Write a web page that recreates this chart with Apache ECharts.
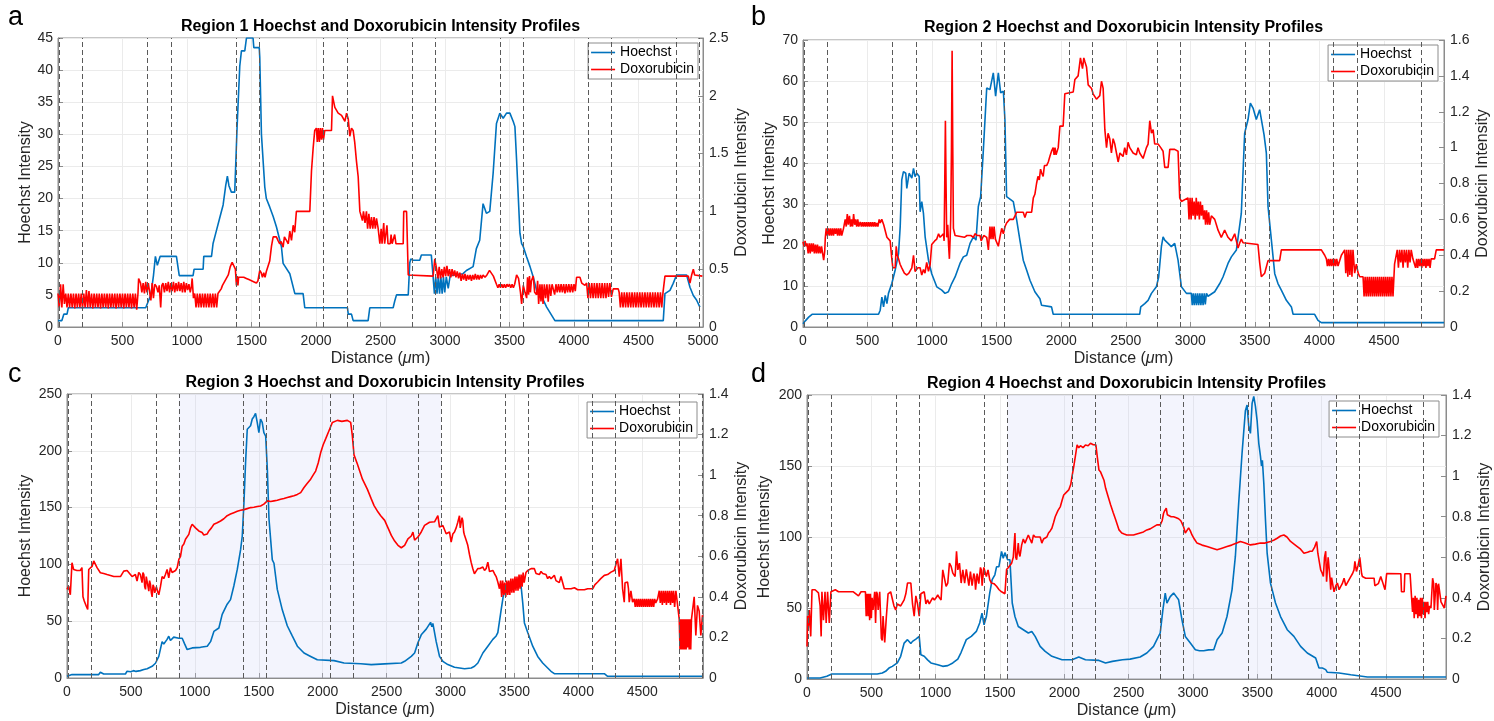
<!DOCTYPE html>
<html>
<head>
<meta charset="utf-8">
<title>Hoechst and Doxorubicin Intensity Profiles</title>
<script src="https://cdn.jsdelivr.net/npm/echarts@6.0.0/dist/echarts.min.js"></script>
<style>
  html, body { margin: 0; padding: 0; background: #fff; }
  #main { width: 1494px; height: 721px; }
</style>
</head>
<body>
<div id="main"></div>
<script>
// ---- data (distance in um, intensity) ----
const titles = [
  'Region 1 Hoechst and Doxorubicin Intensity Profiles',
  'Region 2 Hoechst and Doxorubicin Intensity Profiles',
  'Region 3 Hoechst and Doxorubicin Intensity Profiles',
  'Region 4 Hoechst and Doxorubicin Intensity Profiles'
]
const panelLetters = ['a', 'b', 'c', 'd']
const seriesNames = ['Hoechst', 'Doxorubicin']

// dashed guide lines, same in every panel
const dashedLines = [10, 190, 695, 875, 1380, 1557, 2060, 2242, 2745, 2925, 3428, 3608, 4110, 4292, 4790, 4972]
// shaded ranges (null = none)
const shadeRanges = [null, null, [875, 2925], [1557, 4110]]

// axis ranges
const xMax = [5000, 4965, 4975, 4966]
const hoechstMax = [45, 70, 250, 200]
const hoechstStep = [5, 10, 50, 50]
const doxMax = [2.5, 1.6, 1.4, 1.4]
const doxStep = [0.5, 0.2, 0.2, 0.2]

const r1Hoechst = [[0,1],[30,1],[45,2],[70,2],[80,3],[680,3],[700,4],[720,5],[740,8],[755,11],[765,11],[770,9.6],[785,9.6],[792,11],[918,11],[940,8],[1047,8],[1055,9],[1125,9],[1130,11],[1190,11],[1202,13],[1228,15],[1254,17],[1280,19],[1300,22],[1313,23.5],[1325,22],[1344,21],[1370,21],[1388,31],[1409,40.6],[1422,43],[1448,43],[1461,45],[1512,45],[1518,43.5],[1560,43.5],[1564,42],[1577,30],[1603,21.8],[1615,20],[1629,20.3],[1641,18.7],[1668,17.2],[1693,15.6],[1732,12.5],[1745,9.9],[1797,8.3],[1836,5.2],[1900,5.2],[1913,3],[2244,3],[2250,2],[2275,2],[2288,1],[2404,1],[2417,3],[2598,3],[2610,4],[2624,5],[2715,5],[2727,10],[2735,10.6],[2752,10.4],[2804,10.4],[2817,11.2],[2894,11.2],[2908,7.8],[2918,5.2],[2928,7.8],[2938,5.2],[2948,7.8],[2958,5.2],[2968,7.8],[2978,5.2],[2988,7.8],[2998,5.4],[3010,7.8],[3025,6],[3040,8],[3053,8.3],[3140,8.3],[3166,8.8],[3218,9.4],[3243,12.2],[3269,13.5],[3295,19.2],[3308,19.2],[3321,17.7],[3347,18],[3373,23.9],[3399,31.7],[3412,32],[3425,33.3],[3451,32.5],[3477,33.3],[3503,33.3],[3529,32],[3542,31.2],[3555,26],[3581,14.6],[3594,13],[3607,12.5],[3633,10.9],[3659,9.4],[3684,7.8],[3710,5.7],[3736,4.7],[3762,4.2],[3788,3.1],[3852,1],[4692,1],[4705,5.2],[4744,5.7],[4769,6.8],[4795,8.1],[4873,8.1],[4899,6.2],[4925,4.9],[4950,4.2],[4976,3.1]]

const r1Dox = [[0,0.29],[10,0.17],[20,0.37],[30,0.17],[40,0.37],[50,0.2],[60,0.29],[70,0.17],[80,0.29],[90,0.17],[100,0.29],[110,0.17],[120,0.29],[130,0.16],[140,0.29],[150,0.17],[160,0.29],[170,0.17],[180,0.29],[190,0.16],[200,0.29],[210,0.17],[220,0.32],[230,0.17],[240,0.31],[250,0.17],[260,0.29],[270,0.16],[280,0.29],[290,0.17],[300,0.29],[310,0.17],[320,0.29],[330,0.16],[340,0.29],[350,0.17],[360,0.29],[370,0.17],[380,0.29],[390,0.16],[400,0.29],[410,0.17],[420,0.29],[430,0.17],[440,0.29],[450,0.16],[460,0.29],[470,0.17],[480,0.29],[490,0.17],[500,0.29],[510,0.16],[520,0.29],[530,0.17],[540,0.29],[550,0.17],[560,0.29],[570,0.16],[580,0.29],[590,0.17],[600,0.29],[610,0.15],[620,0.29],[625,0.42],[640,0.38],[650,0.3],[660,0.38],[670,0.29],[680,0.39],[690,0.3],[700,0.38],[711,0.37],[720,0.23],[730,0.38],[740,0.25],[750,0.37],[763,0.35],[775,0.3],[785,0.36],[796,0.17],[805,0.36],[814,0.38],[825,0.3],[835,0.38],[845,0.31],[855,0.39],[865,0.3],[875,0.38],[885,0.31],[895,0.39],[905,0.3],[915,0.38],[925,0.31],[935,0.39],[945,0.31],[955,0.38],[965,0.3],[975,0.39],[985,0.3],[995,0.38],[1005,0.32],[1015,0.37],[1025,0.3],[1034,0.35],[1040,0.42],[1050,0.25],[1060,0.29],[1070,0.17],[1080,0.29],[1090,0.17],[1100,0.29],[1110,0.17],[1120,0.29],[1130,0.17],[1140,0.29],[1150,0.17],[1160,0.29],[1170,0.17],[1180,0.29],[1190,0.17],[1200,0.29],[1210,0.17],[1220,0.29],[1230,0.17],[1240,0.29],[1254,0.3],[1265,0.33],[1275,0.36],[1290,0.39],[1305,0.42],[1320,0.45],[1335,0.52],[1350,0.56],[1365,0.55],[1375,0.5],[1383,0.36],[1390,0.44],[1395,0.36],[1400,0.43],[1420,0.43],[1440,0.43],[1460,0.42],[1480,0.41],[1500,0.4],[1520,0.39],[1538,0.38],[1550,0.4],[1564,0.49],[1575,0.47],[1585,0.43],[1595,0.47],[1605,0.43],[1615,0.48],[1629,0.47],[1641,0.57],[1655,0.7],[1668,0.78],[1693,0.78],[1705,0.75],[1719,0.72],[1730,0.74],[1745,0.69],[1755,0.78],[1771,0.75],[1785,0.72],[1797,0.83],[1810,0.75],[1823,0.88],[1835,0.82],[1848,1.0],[1952,1.0],[1965,1.35],[1978,1.55],[1990,1.7],[2003,1.72],[2010,1.6],[2018,1.72],[2026,1.6],[2034,1.72],[2042,1.62],[2050,1.72],[2058,1.62],[2068,1.7],[2120,1.7],[2128,2.0],[2140,2.0],[2146,1.9],[2172,1.85],[2198,1.83],[2224,1.78],[2237,1.85],[2250,1.8],[2262,1.65],[2275,1.72],[2288,1.7],[2300,1.6],[2314,1.43],[2327,1.3],[2340,1.0],[2355,1.0],[2360,0.92],[2368,1.0],[2380,0.9],[2391,1.0],[2400,0.85],[2410,0.98],[2420,0.85],[2430,0.95],[2440,0.85],[2450,0.95],[2460,0.85],[2469,0.94],[2482,0.85],[2495,0.72],[2505,0.85],[2512,0.72],[2525,0.9],[2532,0.72],[2545,0.72],[2550,0.88],[2558,0.72],[2575,0.72],[2582,0.8],[2590,0.72],[2600,0.72],[2610,0.8],[2620,0.72],[2676,0.72],[2680,1.0],[2702,1.0],[2715,0.45],[2908,0.44],[2921,0.59],[2935,0.5],[2945,0.42],[2955,0.52],[2965,0.42],[2975,0.5],[2985,0.43],[2995,0.52],[3005,0.44],[3015,0.53],[3025,0.44],[3035,0.5],[3045,0.43],[3055,0.5],[3065,0.44],[3075,0.49],[3085,0.43],[3095,0.48],[3105,0.42],[3115,0.47],[3125,0.4],[3135,0.46],[3145,0.41],[3155,0.46],[3165,0.4],[3175,0.45],[3185,0.41],[3195,0.45],[3205,0.4],[3215,0.45],[3225,0.41],[3235,0.46],[3245,0.41],[3255,0.45],[3265,0.41],[3275,0.45],[3285,0.42],[3295,0.45],[3310,0.43],[3325,0.45],[3335,0.44],[3345,0.49],[3360,0.48],[3375,0.44],[3386,0.44],[3399,0.37],[3410,0.34],[3420,0.37],[3430,0.34],[3440,0.37],[3450,0.34],[3460,0.37],[3470,0.34],[3480,0.37],[3490,0.35],[3500,0.37],[3510,0.34],[3520,0.37],[3530,0.34],[3540,0.37],[3555,0.45],[3570,0.42],[3585,0.3],[3594,0.2],[3607,0.36],[3620,0.3],[3633,0.25],[3640,0.43],[3648,0.28],[3655,0.44],[3662,0.3],[3670,0.4],[3684,0.44],[3695,0.3],[3710,0.28],[3718,0.4],[3726,0.2],[3736,0.37],[3744,0.22],[3752,0.37],[3760,0.2],[3770,0.37],[3780,0.25],[3790,0.37],[3800,0.22],[3810,0.37],[3820,0.27],[3830,0.37],[3839,0.37],[3850,0.28],[3860,0.37],[3870,0.3],[3880,0.37],[3890,0.3],[3900,0.37],[3910,0.3],[3920,0.37],[3930,0.29],[3940,0.37],[3950,0.3],[3960,0.37],[3970,0.3],[3980,0.37],[3990,0.3],[4000,0.37],[4010,0.31],[4020,0.43],[4046,0.43],[4060,0.38],[4085,0.36],[4098,0.38],[4108,0.25],[4118,0.38],[4128,0.25],[4138,0.38],[4148,0.25],[4158,0.38],[4168,0.25],[4178,0.38],[4188,0.25],[4198,0.38],[4208,0.25],[4218,0.38],[4228,0.25],[4238,0.38],[4248,0.25],[4258,0.38],[4268,0.26],[4278,0.38],[4290,0.26],[4304,0.33],[4343,0.33],[4350,0.3],[4360,0.17],[4370,0.3],[4380,0.17],[4390,0.3],[4400,0.17],[4410,0.3],[4420,0.17],[4430,0.3],[4440,0.17],[4450,0.3],[4460,0.17],[4470,0.3],[4480,0.17],[4490,0.3],[4500,0.17],[4510,0.3],[4520,0.17],[4530,0.3],[4540,0.17],[4550,0.3],[4560,0.17],[4570,0.3],[4580,0.17],[4590,0.3],[4600,0.17],[4610,0.3],[4620,0.17],[4630,0.3],[4640,0.17],[4650,0.3],[4660,0.17],[4670,0.3],[4680,0.17],[4690,0.3],[4700,0.3],[4705,0.44],[4886,0.44],[4899,0.38],[4912,0.45],[4925,0.5],[4935,0.45],[4950,0.44],[4995,0.44]]

const r2Hoechst = [[0,0.8],[18,1.5],[44,2.4],[70,3.1],[585,3.1],[598,4.1],[611,7.3],[624,4.9],[637,7.7],[650,5.7],[662,8.2],[688,10.6],[714,13.9],[740,17.9],[753,24.5],[765,35.9],[778,37.9],[796,37.5],[804,33.8],[822,37.5],[843,36.3],[856,38.7],[868,36.7],[881,37.5],[900,36.7],[907,28.1],[920,30.6],[933,27.7],[946,22],[972,16.3],[997,13],[1036,9.8],[1075,9],[1100,8.2],[1126,8.6],[1152,10.6],[1178,12.2],[1216,15.5],[1242,17.1],[1268,17.5],[1294,20.4],[1320,22],[1340,21.2],[1358,29.4],[1376,31.8],[1397,43.2],[1423,58.3],[1448,57.9],[1474,62],[1492,56.3],[1513,62],[1531,57.1],[1552,57.5],[1564,50.6],[1577,31.8],[1629,30.6],[1655,26.1],[1680,21.2],[1706,16.3],[1732,13.9],[1758,11.4],[1796,8.6],[1835,6.9],[1848,5.3],[1861,4.9],[1925,4.9],[1938,3.1],[2608,3.1],[2616,4.9],[2647,5.7],[2673,6.5],[2699,8.2],[2737,9.8],[2755,12.2],[2776,19.6],[2789,22],[2802,21.2],[2828,20.4],[2853,19.6],[2879,20.4],[2905,16.3],[2931,9.8],[2970,8.2],[3008,8.2],[3015,5.3],[3023,8.2],[3031,5.3],[3040,8.2],[3048,5.3],[3057,8.2],[3065,5.3],[3074,8.2],[3082,5.3],[3091,8.2],[3099,5.3],[3108,8.2],[3116,5.5],[3125,8.2],[3137,7.5],[3150,7.3],[3189,8.6],[3228,10.6],[3253,12.2],[3292,15.5],[3318,17.1],[3357,18.8],[3395,27.7],[3421,47.3],[3447,50.6],[3465,54.6],[3486,53.4],[3511,50.6],[3537,53],[3550,53],[3571,46.9],[3589,42.4],[3602,29.4],[3628,21.2],[3654,13],[3679,10.6],[3705,9],[3744,6.5],[3783,4.9],[3796,3.1],[3963,3.1],[3989,1.6],[4015,1.06],[4965,1.06]]

const r2Dox = [[0,0.475],[8,0.45],[16,0.48],[24,0.45],[31,0.466],[40,0.41],[48,0.466],[56,0.41],[64,0.466],[72,0.42],[80,0.466],[88,0.41],[96,0.46],[104,0.41],[112,0.46],[120,0.41],[128,0.45],[136,0.41],[144,0.45],[152,0.41],[160,0.373],[168,0.42],[173,0.5],[180,0.55],[188,0.51],[196,0.55],[204,0.51],[212,0.55],[220,0.51],[228,0.55],[236,0.51],[244,0.55],[252,0.52],[260,0.55],[268,0.51],[276,0.55],[284,0.51],[292,0.55],[300,0.51],[314,0.55],[327,0.6],[335,0.56],[343,0.63],[351,0.57],[360,0.62],[368,0.56],[376,0.6],[384,0.56],[392,0.63],[400,0.57],[408,0.6],[416,0.56],[424,0.6],[432,0.56],[443,0.585],[452,0.56],[460,0.585],[468,0.56],[476,0.585],[484,0.56],[492,0.585],[500,0.56],[508,0.585],[516,0.56],[524,0.585],[532,0.56],[540,0.585],[548,0.56],[556,0.585],[564,0.56],[572,0.58],[580,0.56],[590,0.6],[598,0.58],[610,0.6],[625,0.57],[637,0.58],[650,0.5],[662,0.49],[675,0.48],[688,0.38],[696,0.33],[714,0.33],[722,0.45],[730,0.4],[740,0.38],[752,0.35],[765,0.33],[785,0.3],[804,0.29],[820,0.3],[843,0.33],[856,0.4],[868,0.31],[890,0.33],[907,0.33],[920,0.29],[933,0.32],[945,0.3],[958,0.36],[972,0.31],[985,0.35],[997,0.46],[1020,0.48],[1036,0.49],[1050,0.52],[1062,0.5],[1075,0.51],[1088,0.52],[1093,0.48],[1098,0.8],[1103,1.15],[1108,0.8],[1113,0.5],[1121,0.57],[1128,0.45],[1134,0.38],[1140,0.5],[1144,0.6],[1150,1.0],[1155,1.54],[1160,1.0],[1165,0.55],[1178,0.51],[1191,0.5],[1250,0.5],[1270,0.51],[1300,0.51],[1320,0.5],[1332,0.52],[1350,0.51],[1371,0.51],[1380,0.48],[1400,0.51],[1423,0.5],[1436,0.43],[1448,0.56],[1456,0.49],[1464,0.56],[1472,0.49],[1480,0.56],[1490,0.49],[1500,0.5],[1513,0.45],[1525,0.5],[1539,0.55],[1552,0.52],[1565,0.56],[1577,0.58],[1600,0.6],[1629,0.6],[1642,0.62],[1655,0.64],[1706,0.64],[1719,0.61],[1732,0.64],[1771,0.64],[1784,0.72],[1796,0.74],[1809,0.8],[1820,0.84],[1830,0.82],[1840,0.88],[1848,0.86],[1860,0.84],[1870,0.9],[1887,0.9],[1900,0.92],[1912,0.95],[1925,0.98],[1938,1.0],[1945,0.96],[1952,1.0],[1960,0.96],[1977,1.0],[1990,1.12],[2015,1.12],[2028,1.3],[2093,1.31],[2106,1.38],[2131,1.4],[2149,1.5],[2165,1.44],[2175,1.5],[2183,1.48],[2196,1.45],[2209,1.35],[2221,1.36],[2235,1.33],[2247,1.3],[2273,1.27],[2299,1.29],[2312,1.37],[2325,1.33],[2338,1.1],[2351,1.0],[2363,1.08],[2376,1.05],[2389,0.97],[2402,1.05],[2415,1.02],[2428,0.97],[2441,0.92],[2455,0.97],[2466,0.97],[2479,0.95],[2492,1.0],[2505,0.96],[2518,1.03],[2531,1.0],[2544,1.0],[2557,0.97],[2570,0.98],[2582,0.96],[2595,1.0],[2608,0.97],[2621,0.97],[2634,0.94],[2647,0.95],[2660,1.0],[2673,1.02],[2686,1.15],[2692,1.12],[2699,1.08],[2712,1.1],[2724,1.02],[2750,1.02],[2771,1.0],[2789,0.98],[2802,0.89],[2828,0.89],[2841,0.99],[2879,0.99],[2905,0.98],[2918,0.72],[2931,0.7],[2982,0.72],[2990,0.6],[2998,0.72],[3006,0.6],[3014,0.72],[3022,0.62],[3030,0.7],[3038,0.6],[3046,0.72],[3054,0.62],[3062,0.7],[3070,0.6],[3078,0.7],[3086,0.62],[3094,0.68],[3102,0.6],[3111,0.65],[3118,0.57],[3126,0.65],[3134,0.57],[3142,0.64],[3150,0.57],[3163,0.62],[3189,0.6],[3202,0.57],[3215,0.54],[3240,0.5],[3253,0.52],[3266,0.54],[3279,0.52],[3292,0.5],[3318,0.48],[3331,0.5],[3344,0.52],[3357,0.52],[3370,0.44],[3383,0.47],[3395,0.49],[3408,0.47],[3421,0.46],[3524,0.46],[3537,0.36],[3550,0.28],[3576,0.3],[3589,0.3],[3602,0.37],[3692,0.37],[3705,0.43],[4015,0.43],[4041,0.4],[4054,0.38],[4062,0.34],[4070,0.38],[4078,0.34],[4086,0.38],[4094,0.34],[4102,0.38],[4110,0.34],[4118,0.38],[4126,0.34],[4134,0.38],[4144,0.34],[4170,0.4],[4196,0.43],[4204,0.3],[4212,0.43],[4220,0.28],[4228,0.43],[4236,0.29],[4244,0.43],[4252,0.28],[4260,0.43],[4273,0.3],[4286,0.35],[4300,0.3],[4312,0.28],[4338,0.28],[4346,0.17],[4354,0.28],[4362,0.17],[4370,0.28],[4378,0.17],[4386,0.28],[4394,0.17],[4402,0.28],[4410,0.17],[4418,0.28],[4426,0.17],[4434,0.28],[4442,0.17],[4450,0.28],[4458,0.17],[4466,0.28],[4474,0.17],[4482,0.28],[4490,0.17],[4498,0.28],[4506,0.17],[4514,0.28],[4522,0.17],[4530,0.28],[4538,0.17],[4546,0.28],[4554,0.17],[4562,0.28],[4570,0.17],[4582,0.35],[4603,0.43],[4612,0.33],[4621,0.43],[4630,0.36],[4639,0.43],[4648,0.33],[4657,0.43],[4666,0.36],[4675,0.43],[4684,0.33],[4693,0.43],[4702,0.36],[4711,0.43],[4724,0.38],[4737,0.38],[4745,0.33],[4753,0.38],[4761,0.33],[4769,0.38],[4777,0.34],[4785,0.38],[4793,0.33],[4801,0.38],[4809,0.34],[4817,0.38],[4825,0.33],[4833,0.38],[4841,0.34],[4849,0.38],[4857,0.33],[4865,0.38],[4880,0.38],[4892,0.38],[4905,0.43],[4965,0.43]]

const r3Hoechst = [[0,1.5],[39,3],[248,3],[261,5],[287,3.5],[457,3.5],[470,6],[500,5.5],[520,6.5],[540,5.8],[574,6.5],[601,7.4],[627,8.2],[666,10.3],[692,13],[718,19],[744,32],[757,30],[770,31],[783,34],[796,36.8],[809,33],[822,34],[835,36],[849,36.8],[875,35],[901,35],[920,30],[940,25],[979,26.5],[1044,27],[1097,28],[1123,32],[1149,41],[1188,44],[1214,56],[1253,65],[1279,69],[1305,81],[1332,95.6],[1358,113],[1371,125],[1384,154],[1397,190],[1410,219],[1436,222],[1449,228],[1462,230],[1475,233],[1488,225],[1501,216],[1514,228],[1527,225],[1540,216],[1554,213],[1567,184],[1580,140],[1606,104],[1619,101],[1645,78],[1684,60],[1723,46],[1762,37],[1802,28],[1854,22],[1906,19],[1958,16],[2089,15.3],[2167,13.2],[2298,12.6],[2380,11.8],[2485,12.4],[2615,13.2],[2641,14.7],[2693,19],[2719,22],[2745,31],[2771,38],[2810,43],[2844,49],[2854,45],[2862,48],[2888,32],[2914,19],[2940,14.7],[2979,11.8],[3031,9.4],[3110,8.2],[3162,8.8],[3188,10.3],[3214,13.2],[3253,22],[3292,28],[3331,34],[3357,37],[3370,40],[3396,60],[3422,79],[3448,84],[3474,81],[3500,82],[3526,84],[3552,81],[3565,66],[3578,48.5],[3604,40],[3643,28],[3682,19],[3721,13.2],[3760,8.8],[3786,5.9],[3812,3.8],[4203,3.8],[4229,1.5],[4975,1.5]]

const r3Dox = [[0,0.437],[13,0.453],[26,0.41],[39,0.568],[52,0.535],[65,0.544],[78,0.53],[91,0.535],[104,0.53],[117,0.544],[125,0.4],[135,0.38],[144,0.387],[151,0.354],[162,0.338],[170,0.535],[183,0.54],[196,0.55],[209,0.577],[222,0.57],[235,0.544],[261,0.519],[287,0.515],[313,0.51],[340,0.505],[366,0.5],[392,0.5],[418,0.5],[444,0.527],[470,0.53],[483,0.535],[496,0.51],[509,0.5],[522,0.494],[535,0.51],[548,0.478],[561,0.52],[574,0.51],[587,0.47],[594,0.52],[601,0.51],[608,0.45],[614,0.437],[620,0.5],[627,0.494],[634,0.45],[640,0.428],[646,0.48],[653,0.461],[660,0.42],[666,0.4],[673,0.46],[679,0.45],[686,0.42],[692,0.428],[699,0.45],[705,0.45],[712,0.42],[718,0.41],[731,0.45],[744,0.5],[757,0.49],[770,0.51],[783,0.535],[796,0.494],[809,0.544],[822,0.52],[836,0.527],[849,0.53],[862,0.544],[875,0.585],[888,0.6],[901,0.65],[914,0.66],[927,0.684],[940,0.69],[953,0.708],[966,0.74],[979,0.758],[992,0.75],[1005,0.74],[1018,0.733],[1031,0.725],[1044,0.72],[1057,0.717],[1070,0.705],[1084,0.7],[1097,0.71],[1110,0.725],[1130,0.74],[1149,0.758],[1175,0.765],[1201,0.774],[1227,0.785],[1253,0.8],[1279,0.808],[1305,0.815],[1332,0.822],[1358,0.827],[1384,0.83],[1410,0.835],[1436,0.84],[1462,0.842],[1488,0.845],[1514,0.848],[1540,0.857],[1567,0.873],[1593,0.87],[1619,0.873],[1645,0.876],[1671,0.881],[1697,0.885],[1723,0.89],[1749,0.894],[1775,0.898],[1802,0.905],[1828,0.914],[1854,0.939],[1880,0.96],[1906,0.98],[1925,1.0],[1945,1.02],[1965,1.06],[1984,1.11],[2004,1.15],[2024,1.18],[2050,1.22],[2076,1.26],[2115,1.27],[2150,1.265],[2193,1.27],[2206,1.277],[2219,1.26],[2232,1.195],[2245,1.1],[2272,1.054],[2311,0.98],[2350,0.93],[2380,0.883],[2402,0.85],[2433,0.818],[2454,0.8],[2485,0.777],[2511,0.74],[2537,0.703],[2563,0.675],[2589,0.654],[2615,0.642],[2641,0.654],[2667,0.686],[2693,0.7],[2706,0.719],[2719,0.68],[2745,0.695],[2771,0.72],[2797,0.752],[2836,0.768],[2875,0.77],[2901,0.8],[2914,0.744],[2940,0.752],[2966,0.711],[2992,0.72],[3005,0.67],[3018,0.71],[3031,0.72],[3044,0.74],[3057,0.768],[3070,0.8],[3076,0.74],[3083,0.745],[3090,0.79],[3096,0.775],[3103,0.72],[3109,0.705],[3122,0.68],[3135,0.654],[3148,0.61],[3161,0.571],[3174,0.54],[3187,0.514],[3200,0.52],[3213,0.539],[3230,0.54],[3253,0.547],[3266,0.53],[3279,0.54],[3292,0.571],[3305,0.525],[3318,0.523],[3331,0.53],[3344,0.514],[3357,0.5],[3370,0.473],[3383,0.44],[3392,0.48],[3400,0.4],[3408,0.48],[3416,0.41],[3424,0.47],[3432,0.4],[3440,0.48],[3448,0.41],[3456,0.48],[3464,0.41],[3472,0.49],[3480,0.42],[3488,0.49],[3496,0.42],[3504,0.5],[3512,0.43],[3520,0.5],[3528,0.43],[3536,0.51],[3544,0.44],[3552,0.51],[3560,0.45],[3568,0.52],[3576,0.47],[3590,0.52],[3604,0.53],[3630,0.539],[3643,0.53],[3656,0.539],[3669,0.515],[3682,0.522],[3695,0.51],[3708,0.525],[3721,0.515],[3734,0.506],[3747,0.51],[3760,0.49],[3773,0.5],[3786,0.489],[3799,0.48],[3812,0.506],[3825,0.48],[3838,0.473],[3851,0.47],[3864,0.5],[3877,0.5],[3890,0.44],[3917,0.44],[3943,0.44],[3969,0.445],[3995,0.435],[4047,0.435],[4073,0.44],[4112,0.44],[4130,0.46],[4151,0.473],[4175,0.49],[4203,0.506],[4229,0.51],[4255,0.522],[4281,0.53],[4294,0.56],[4307,0.588],[4320,0.5],[4333,0.588],[4346,0.44],[4359,0.374],[4365,0.47],[4372,0.473],[4385,0.473],[4392,0.44],[4398,0.374],[4411,0.43],[4418,0.43],[4424,0.374],[4437,0.39],[4445,0.35],[4453,0.39],[4461,0.35],[4469,0.39],[4477,0.35],[4485,0.39],[4493,0.35],[4501,0.39],[4509,0.35],[4517,0.39],[4525,0.35],[4533,0.39],[4541,0.35],[4549,0.39],[4557,0.35],[4565,0.39],[4573,0.35],[4581,0.39],[4589,0.35],[4597,0.39],[4605,0.37],[4620,0.39],[4633,0.43],[4641,0.37],[4649,0.43],[4657,0.36],[4665,0.43],[4673,0.37],[4681,0.43],[4689,0.36],[4697,0.43],[4705,0.37],[4713,0.43],[4721,0.36],[4729,0.43],[4737,0.37],[4745,0.43],[4753,0.35],[4763,0.43],[4776,0.43],[4789,0.29],[4795,0.14],[4801,0.29],[4807,0.14],[4813,0.29],[4819,0.14],[4825,0.29],[4831,0.14],[4837,0.29],[4843,0.14],[4849,0.29],[4855,0.15],[4861,0.29],[4867,0.14],[4873,0.29],[4879,0.14],[4885,0.29],[4893,0.29],[4906,0.4],[4919,0.21],[4932,0.358],[4945,0.33],[4958,0.21],[4971,0.31]]

const r4Hoechst = [[0,0.7],[102,0.7],[154,1.9],[193,3.5],[546,3.5],[585,4.2],[611,5.4],[637,7.7],[663,8.9],[702,11.3],[728,16],[755,25.3],[781,27.7],[794,28.8],[807,25],[820,26.5],[833,27],[846,28.1],[859,27],[872,30],[885,17.1],[911,16],[937,13.5],[963,11.3],[1016,10.1],[1055,8.9],[1094,9.4],[1133,11.3],[1172,14],[1198,18.8],[1238,27.7],[1277,30],[1316,33.5],[1342,39.4],[1360,46.4],[1376,38.2],[1394,44],[1420,60.5],[1439,70],[1460,73.4],[1473,79],[1491,79],[1512,89.8],[1525,85],[1538,89],[1559,84],[1577,84],[1595,53.5],[1616,44],[1642,37],[1681,34.7],[1720,32.4],[1747,33.5],[1773,30],[1812,23],[1851,19.5],[1903,16],[1982,13.6],[2060,13.6],[2112,15.5],[2164,13.6],[2269,13.1],[2320,11.3],[2373,12.4],[2452,13.6],[2511,14],[2589,15.5],[2641,18.3],[2693,23],[2719,27.7],[2745,32.4],[2766,48.8],[2784,60.5],[2797,53.5],[2823,58],[2849,60.5],[2870,58],[2888,55.8],[2914,41.7],[2940,30],[2979,25.3],[3018,20.6],[3050,19.9],[3083,19.9],[3120,20.5],[3161,20.6],[3187,27.7],[3226,32.4],[3264,44],[3303,62.8],[3329,86.3],[3355,124],[3381,159],[3407,189],[3420,193],[3433,178],[3446,173],[3459,194],[3472,199],[3485,192],[3498,182],[3511,166],[3524,157],[3532,150],[3539,154],[3550,138],[3563,112],[3576,88.6],[3602,67.5],[3641,53.5],[3680,44],[3732,34.7],[3784,30],[3836,23],[3888,18.3],[3953,14.8],[3979,7.7],[3990,9],[4005,7.7],[4031,6.6],[4044,4.7],[4135,4.2],[4226,3],[4355,1.4],[4966,1.4]]

const r4Dox = [[0,0.16],[5,0.31],[10,0.25],[18,0.34],[29,0.21],[39,0.44],[63,0.44],[89,0.425],[102,0.36],[110,0.21],[116,0.43],[123,0.43],[128,0.29],[133,0.29],[140,0.43],[144,0.43],[149,0.276],[154,0.276],[160,0.43],[167,0.43],[173,0.276],[180,0.276],[186,0.43],[193,0.43],[220,0.44],[245,0.43],[280,0.43],[320,0.43],[360,0.43],[400,0.41],[420,0.43],[454,0.43],[460,0.31],[467,0.42],[474,0.31],[480,0.42],[487,0.29],[493,0.42],[500,0.3],[506,0.4],[513,0.34],[520,0.34],[526,0.43],[533,0.276],[540,0.43],[546,0.42],[553,0.34],[559,0.34],[565,0.43],[572,0.43],[578,0.2],[585,0.19],[591,0.31],[598,0.31],[604,0.18],[611,0.18],[617,0.31],[624,0.31],[630,0.42],[650,0.43],[663,0.43],[676,0.36],[689,0.34],[702,0.37],[715,0.37],[728,0.36],[742,0.36],[755,0.39],[768,0.42],[781,0.473],[807,0.473],[820,0.37],[833,0.31],[846,0.41],[859,0.37],[872,0.31],[885,0.42],[898,0.42],[911,0.43],[924,0.37],[937,0.39],[950,0.37],[963,0.366],[976,0.4],[990,0.39],[1003,0.4],[1016,0.415],[1029,0.4],[1042,0.39],[1055,0.538],[1068,0.53],[1081,0.457],[1094,0.473],[1107,0.571],[1120,0.555],[1133,0.522],[1151,0.505],[1162,0.63],[1172,0.538],[1185,0.571],[1198,0.473],[1211,0.538],[1225,0.473],[1238,0.54],[1251,0.538],[1258,0.46],[1264,0.457],[1270,0.53],[1277,0.538],[1283,0.46],[1290,0.457],[1296,0.52],[1303,0.505],[1310,0.44],[1316,0.44],[1322,0.52],[1329,0.522],[1335,0.47],[1342,0.473],[1348,0.55],[1355,0.538],[1361,0.46],[1368,0.457],[1374,0.55],[1381,0.555],[1394,0.505],[1407,0.538],[1420,0.49],[1433,0.473],[1453,0.47],[1473,0.457],[1493,0.44],[1512,0.43],[1525,0.43],[1538,0.42],[1551,0.54],[1565,0.55],[1577,0.555],[1590,0.57],[1603,0.6],[1616,0.72],[1622,0.6],[1629,0.588],[1642,0.67],[1648,0.62],[1655,0.604],[1668,0.66],[1681,0.69],[1694,0.67],[1707,0.677],[1720,0.71],[1733,0.69],[1747,0.67],[1760,0.71],[1773,0.7],[1786,0.7],[1812,0.7],[1825,0.67],[1838,0.69],[1851,0.694],[1864,0.7],[1877,0.72],[1890,0.73],[1903,0.743],[1916,0.77],[1929,0.8],[1950,0.83],[1969,0.85],[1982,0.88],[1995,0.907],[2015,0.92],[2034,0.932],[2050,0.96],[2060,1.0],[2073,1.047],[2086,1.1],[2099,1.154],[2112,1.14],[2125,1.15],[2145,1.14],[2164,1.154],[2185,1.15],[2203,1.162],[2225,1.155],[2245,1.154],[2257,1.09],[2269,1.03],[2282,1.02],[2295,1.015],[2308,0.98],[2321,0.94],[2340,0.9],[2360,0.858],[2380,0.82],[2399,0.785],[2425,0.735],[2446,0.72],[2465,0.715],[2485,0.71],[2511,0.71],[2537,0.71],[2563,0.715],[2589,0.72],[2615,0.725],[2641,0.735],[2667,0.74],[2693,0.75],[2719,0.76],[2732,0.768],[2745,0.76],[2760,0.78],[2771,0.817],[2780,0.83],[2792,0.842],[2800,0.81],[2810,0.81],[2830,0.8],[2849,0.8],[2870,0.795],[2888,0.79],[2905,0.78],[2914,0.768],[2927,0.75],[2940,0.72],[2953,0.72],[2966,0.745],[2979,0.73],[2992,0.71],[3010,0.69],[3031,0.67],[3070,0.66],[3109,0.653],[3150,0.645],[3187,0.637],[3225,0.645],[3264,0.653],[3300,0.66],[3340,0.67],[3368,0.678],[3400,0.672],[3446,0.661],[3485,0.665],[3524,0.67],[3560,0.67],[3602,0.678],[3630,0.685],[3654,0.694],[3680,0.705],[3706,0.71],[3730,0.7],[3758,0.678],[3785,0.665],[3810,0.653],[3836,0.64],[3862,0.62],[3890,0.625],[3910,0.63],[3927,0.63],[3945,0.65],[3961,0.678],[3970,0.62],[3979,0.62],[3992,0.538],[4005,0.52],[4013,0.505],[4022,0.6],[4031,0.63],[4038,0.48],[4044,0.473],[4050,0.6],[4057,0.604],[4064,0.5],[4070,0.44],[4077,0.5],[4083,0.505],[4090,0.45],[4096,0.43],[4110,0.46],[4122,0.473],[4135,0.44],[4148,0.457],[4160,0.47],[4174,0.497],[4187,0.46],[4200,0.457],[4213,0.49],[4226,0.505],[4240,0.52],[4251,0.538],[4258,0.58],[4264,0.585],[4270,0.53],[4277,0.522],[4283,0.56],[4290,0.555],[4296,0.6],[4303,0.596],[4310,0.52],[4316,0.505],[4329,0.5],[4342,0.497],[4380,0.497],[4407,0.497],[4413,0.46],[4420,0.456],[4440,0.47],[4459,0.505],[4472,0.48],[4485,0.473],[4492,0.44],[4498,0.448],[4505,0.52],[4511,0.519],[4615,0.519],[4620,0.43],[4641,0.43],[4646,0.519],[4687,0.519],[4698,0.407],[4706,0.33],[4712,0.4],[4719,0.3],[4726,0.41],[4733,0.32],[4740,0.4],[4747,0.3],[4754,0.39],[4761,0.31],[4768,0.4],[4775,0.3],[4782,0.4],[4789,0.32],[4796,0.38],[4803,0.3],[4810,0.38],[4817,0.33],[4824,0.38],[4831,0.32],[4838,0.36],[4849,0.35],[4862,0.497],[4870,0.47],[4875,0.34],[4888,0.473],[4895,0.46],[4901,0.34],[4908,0.47],[4914,0.473],[4927,0.38],[4940,0.374],[4953,0.35],[4966,0.41]]

const hoechstData = [r1Hoechst, r2Hoechst, r3Hoechst, r4Hoechst]
const doxData = [r1Dox, r2Dox, r3Dox, r4Dox]

// ---- layout (pixels) ----
const FONT = '"Liberation Sans", Arial, Helvetica, sans-serif'
const AXIS_GRAY = '#8c8c8c'
const TEXT = '#262626'
const BLUE = '#0072BD'
const RED = '#FF0000'

const panels = [
    {left: 58, top: 38, width: 645, height: 289, titleY: 27, letterY: 18, xGap: 24, hGap: 24, dGap: 31, legendRight: 796, legendTop: 43},
    {left: 803, top: 40, width: 641, height: 287, titleY: 28, letterY: 18, xGap: 24, hGap: 25, dGap: 31, legendRight: 56, legendTop: 45},
    {left: 67, top: 394, width: 636, height: 284, titleY: 383, letterY: 375, xGap: 24, hGap: 33, dGap: 31, legendRight: 797, legendTop: 402},
    {left: 807, top: 395, width: 639, height: 284, titleY: 384, letterY: 375, xGap: 24, hGap: 34, dGap: 31, legendRight: 55, legendTop: 401}
]

const grid = [], xAxis = [], yAxis = [], series = [], legend = [], graphic = []

panels.forEach((p, i) => {
    grid.push({
        left: p.left, top: p.top, width: p.width, height: p.height,
        show: true, borderColor: AXIS_GRAY, borderWidth: 1,
        outerBoundsMode: 'none'
    })

    xAxis.push({
        type: 'value', gridIndex: i, min: 0, max: xMax[i], interval: 500,
        name: 'Distance ({i|μ}m)', nameLocation: 'middle', nameGap: p.xGap,
        nameTextStyle: {fontSize: 16, color: TEXT, fontFamily: FONT,
            rich: {i: {fontStyle: 'italic', fontSize: 16, color: TEXT, fontFamily: FONT}}},
        axisLine: {show: true, onZero: false, lineStyle: {color: AXIS_GRAY}},
        axisTick: {show: true, inside: true, length: 5, lineStyle: {color: AXIS_GRAY}},
        axisLabel: {color: TEXT, fontSize: 14, margin: 7, fontFamily: FONT,
            formatter: v => (v % 500 === 0 ? String(v) : '')},
        splitLine: {show: true, lineStyle: {color: '#ebebeb', width: 1}}
    })

    yAxis.push({
        type: 'value', gridIndex: i, position: 'left', min: 0, max: hoechstMax[i], interval: hoechstStep[i],
        name: 'Hoechst Intensity', nameLocation: 'middle', nameGap: p.hGap, nameRotate: 90,
        nameTextStyle: {fontSize: 16, color: TEXT, fontFamily: FONT},
        axisLine: {show: true, onZero: false, lineStyle: {color: AXIS_GRAY}},
        axisTick: {show: true, inside: true, length: 5, lineStyle: {color: AXIS_GRAY}},
        axisLabel: {color: TEXT, fontSize: 14, margin: 5, fontFamily: FONT},
        splitLine: {show: true, lineStyle: {color: '#ebebeb', width: 1}}
    })
    yAxis.push({
        type: 'value', gridIndex: i, position: 'right', min: 0, max: doxMax[i], interval: doxStep[i],
        name: 'Doxorubicin Intensity', nameLocation: 'middle', nameGap: p.dGap, nameRotate: 90,
        nameTextStyle: {fontSize: 16, color: TEXT, fontFamily: FONT},
        axisLine: {show: true, onZero: false, lineStyle: {color: AXIS_GRAY}},
        axisTick: {show: true, inside: true, length: 5, lineStyle: {color: AXIS_GRAY}},
        axisLabel: {color: TEXT, fontSize: 14, margin: 6, fontFamily: FONT},
        splitLine: {show: false}
    })

    // guide lines and shading, drawn under the profiles
    const marker = {
        type: 'line', xAxisIndex: i, yAxisIndex: 2 * i, data: [], silent: true, z: 1,
        markLine: {
            silent: true, symbol: ['none', 'none'], label: {show: false},
            lineStyle: {type: [5, 3], color: '#5a5a5a', width: 1},
            emphasis: {disabled: true},
            data: dashedLines.map(v => ({xAxis: v}))
        }
    }
    if (shadeRanges[i]) {
        marker.markArea = {
            silent: true,
            itemStyle: {color: 'rgba(200,205,245,0.22)'},
            data: [[{xAxis: shadeRanges[i][0]}, {xAxis: shadeRanges[i][1]}]]
        }
    }
    series.push(marker)

    series.push({
        type: 'line', name: seriesNames[0], xAxisIndex: i, yAxisIndex: 2 * i,
        data: hoechstData[i], showSymbol: false, symbol: 'none', silent: true, z: 3,
        lineStyle: {color: BLUE, width: 1.6}, itemStyle: {color: BLUE}
    })
    series.push({
        type: 'line', name: seriesNames[1], xAxisIndex: i, yAxisIndex: 2 * i + 1,
        data: doxData[i], showSymbol: false, symbol: 'none', silent: true, z: 4,
        lineStyle: {color: RED, width: 1.6}, itemStyle: {color: RED}
    })

    legend.push({
        orient: 'vertical', right: p.legendRight, top: p.legendTop,
        data: seriesNames, icon: 'rect', itemWidth: 24, itemHeight: 1.6, itemGap: 2,
        padding: [2, 4, 2, 3], backgroundColor: '#ffffff', borderColor: AXIS_GRAY, borderWidth: 1,
        selectedMode: false,
        textStyle: {fontSize: 14, color: '#000', fontFamily: FONT, lineHeight: 15}
    })

    graphic.push({
        type: 'text', x: p.left + p.width / 2, y: p.titleY, silent: true,
        style: {text: titles[i], fill: '#000', font: 'bold 16px ' + FONT,
            align: 'center', verticalAlign: 'middle', textAlign: 'center', textVerticalAlign: 'middle'}
    })
    graphic.push({
        type: 'text', x: i % 2 === 0 ? 8 : 751, y: p.letterY, silent: true,
        style: {text: panelLetters[i], fill: '#000', font: '27px ' + FONT,
            align: 'left', verticalAlign: 'middle', textAlign: 'left', textVerticalAlign: 'middle'}
    })
})

const chart = echarts.init(document.getElementById('main'))
chart.setOption({
    animation: false,
    backgroundColor: '#ffffff',
    textStyle: {fontFamily: FONT},
    grid, xAxis, yAxis, series, legend, graphic
})
</script>
</body>
</html>
